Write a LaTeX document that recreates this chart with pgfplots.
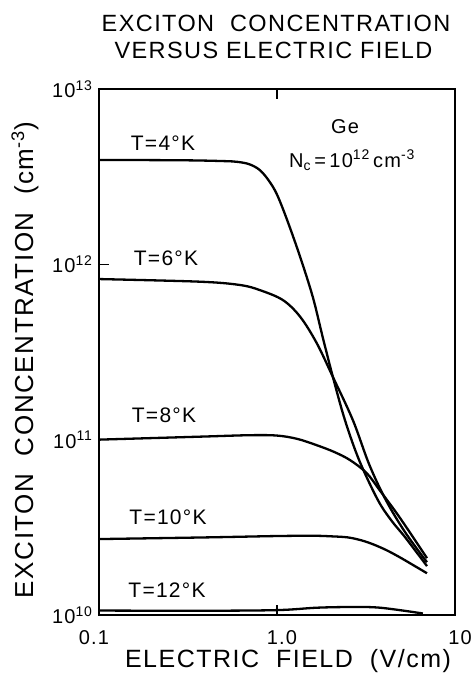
\documentclass[border=0pt]{standalone}
\usepackage{pgfplots}
\pgfplotsset{compat=1.18}
\usepackage{fontspec}
\setmainfont{Liberation Sans}[LetterSpace=6]
\pgfplotsset{curve/.style={black, line width=2.3pt, mark=none, smooth, tension=0.55}}
\begin{document}
\begin{tikzpicture}
\begin{axis}[
  at={(0pt,0pt)}, anchor=south west,
  scale only axis, width=356pt, height=526pt,
  xmode=log, ymode=log,
  xmin=0.1, xmax=10, ymin=1e10, ymax=1e13,
  xtick={0.1,1,10}, xticklabels={0.1\kern10pt,\kern10pt1.0,\kern10pt10},
  ytick={1e10,1e11,1e12,1e13},
  yticklabels={10\textsuperscript{10},10\textsuperscript{11},10\textsuperscript{12},10\textsuperscript{13}},
  minor tick length=0pt,
  major tick length=10pt,
  tick align=inside,
  xtick pos=both, ytick pos=left,
  axis line style={line width=1.6pt},
  tick style={line width=1.4pt, black},
  xticklabel style={font=\fontsize{20}{22}\selectfont, inner sep=0pt, anchor=north, yshift=-15pt},
  yticklabel style={font=\fontsize{20}{22}\selectfont, xshift=-3pt},
  clip=true,
]
% T = 4 K
\addplot[curve] coordinates {(0.1,3.94e12) (0.3,3.92e12) (0.5,3.88e12) (0.6,3.84e12) (0.7,3.72e12) (0.8,3.45e12) (0.9,3.0e12) (1.0,2.5e12) (1.14,1.79e12) (1.35,1.10e12) (1.59,6.5e11) (1.8,3.9e11) (2.06,2.28e11) (2.41,1.29e11) (2.9,7.6e10) (3.69,4.52e10) (4.4,3.45e10) (5.24,2.78e10) (6.96,1.90e10)};
% T = 6 K
\addplot[curve] coordinates {(0.1,8.24e11) (0.37,7.96e11) (0.62,7.62e11) (0.8,7.13e11) (1.08,6.25e11) (1.35,5.02e11) (1.67,3.56e11) (2.06,2.28e11) (2.67,1.29e11) (3.3,7.2e10) (4.09,4.52e10) (5.24,2.97e10) (6.96,2.00e10)};
% T = 8 K
\addplot[curve] coordinates {(0.1,1.00e11) (0.37,1.04e11) (0.7,1.06e11) (1.0,1.055e11) (1.3,1.01e11) (1.67,9.3e10) (2.1,8.5e10) (2.57,7.65e10) (3.19,6.45e10) (3.8,5.1e10) (4.7,3.81e10) (5.81,2.78e10) (6.96,2.11e10)};
% T = 10 K
\addplot[curve] coordinates {(0.1,2.71e10) (0.4,2.77e10) (1.0,2.82e10) (1.6,2.83e10) (2.0,2.81e10) (2.5,2.77e10) (3.0,2.66e10) (3.5,2.52e10) (4.13,2.34e10) (4.91,2.13e10) (5.8,1.93e10) (6.96,1.73e10)};
% T = 12 K
\addplot[curve] coordinates {(0.1,1.06e10) (0.369,1.057e10) (1.0,1.066e10) (1.67,1.10e10) (2.57,1.11e10) (3.8,1.10e10) (6.6,1.02e10)};
\end{axis}
% titles and labels
\node[font=\fontsize{23.5}{26}\selectfont, inner sep=0pt] at (177pt,592pt) {EXCITON\ \ CONCENTRATION};
\node[font=\fontsize{23.5}{26}\selectfont, inner sep=0pt] at (174.5pt,565pt) {VERSUS ELECTRIC FIELD};
\node[font=\fontsize{26}{28}\selectfont, inner sep=0pt, rotate=90] at (-74pt,255pt) {EXCITON\ \ CONCENTRATION\ \ (cm\textsuperscript{-3})};
\node[font=\fontsize{25}{27}\selectfont, inner sep=0pt] at (189pt,-46pt) {ELECTRIC\ \ FIELD\ \ (V/cm)};
% curve labels
\node[font=\fontsize{21}{23}\selectfont, inner sep=0pt] at (64pt,472pt) {T=4°K};
\node[font=\fontsize{21}{23}\selectfont, inner sep=0pt] at (67pt,357pt) {T=6°K};
\node[font=\fontsize{21}{23}\selectfont, inner sep=0pt] at (65pt,200pt) {T=8°K};
\node[font=\fontsize{21}{23}\selectfont, inner sep=0pt] at (69pt,98pt) {T=10°K};
\node[font=\fontsize{21}{23}\selectfont, inner sep=0pt] at (68pt,25pt) {T=12°K};
\node[font=\fontsize{20}{22}\selectfont, inner sep=0pt] at (246pt,488pt) {Ge};
\node[font=\fontsize{20}{22}\selectfont, inner sep=0pt] at (253pt,455pt) {N\textsubscript{c}\,=\,10\textsuperscript{12}\,cm\textsuperscript{-3}};
\useasboundingbox (-99pt,-63pt) rectangle (369pt,615pt);
\end{tikzpicture}
\end{document}
